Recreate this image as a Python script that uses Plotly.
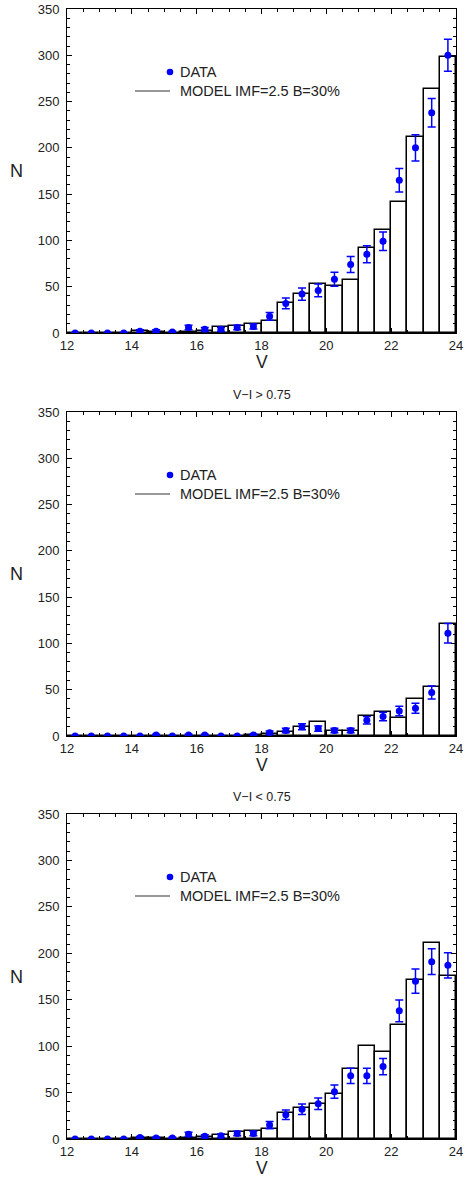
import plotly.graph_objects as go

# V-band magnitude bins (0.5 mag wide) shared by all three histograms
v_centers = [12.25, 12.75, 13.25, 13.75, 14.25, 14.75, 15.25, 15.75,
             16.25, 16.75, 17.25, 17.75, 18.25, 18.75, 19.25, 19.75,
             20.25, 20.75, 21.25, 21.75, 22.25, 22.75, 23.25, 23.75]

# All stars
model_all = [0, 0, 0, 0, 2, 1, 0.5, 1, 2, 6, 7.5, 10, 13, 32, 42, 52.5,
             51, 57, 92, 111, 142, 212, 264, 298]
data_all = [0, 0, 0, 0, 2, 2, 1, 6, 4, 4, 6, 7, 18, 32, 42, 46,
            58, 74, 85, 99, 165, 200, 238, 300]
err_all = [0, 0, 0, 0, 1.4, 1.4, 1, 2.4, 2, 2, 2.4, 2.6, 4.2, 5.7, 6.5, 6.8,
           7.6, 8.6, 9.2, 10, 12.8, 14.1, 15.4, 17.3]

# V-I > 0.75
model_red = [0, 0, 0, 0, 0, 0, 0, 0, 0, 0, 0.5, 1, 2, 4, 9.5, 15,
             5, 5, 22, 25.5, 19, 40, 52.5, 121]
data_red = [0, 0, 0, 0, 0, 1, 0, 1, 1, 0, 0, 1, 3.5, 6, 10, 8,
            6, 6, 17, 21, 27, 30, 47, 111]
err_red = [0, 0, 0, 0, 0, 1, 0, 1, 1, 0, 0, 1, 1.9, 2.4, 3.2, 2.8,
           2.4, 2.4, 4.1, 4.6, 5.2, 5.5, 6.9, 10.5]

# V-I < 0.75
model_blue = [0, 0, 0, 0, 1.5, 1, 0.5, 1, 2.5, 4.5, 7.5, 9, 11, 28, 33, 38,
              48, 75, 100, 94, 123, 171, 211, 176]
data_blue = [0, 0, 0, 0, 1.5, 1, 1, 5, 3, 3.5, 6, 6, 15, 26, 32, 38,
             51, 68, 68, 78, 138, 170, 191, 187]
err_blue = [0, 0, 0, 0, 1.2, 1, 1, 2.2, 1.7, 1.9, 2.4, 2.4, 3.9, 5.1, 5.7, 6.2,
            7.1, 8.2, 8.2, 8.8, 11.7, 13, 13.8, 13.7]

panels = [
    (model_all, data_all, err_all, ""),
    (model_red, data_red, err_red, "V\u2212I > 0.75"),
    (model_blue, data_blue, err_blue, "V\u2212I < 0.75"),
]

W, H = 465, 1177
FONT = "Liberation Sans, Arial, sans-serif"
BLUE = "#0000ff"
TXT = "#222222"

# pixel boxes of the three plot areas: (left, right, top, bottom)
boxes = [(67, 456, 9, 333), (67, 456, 412, 736), (67, 456, 814, 1139)]


def px(x):
    return x / W


def py(y):
    return 1 - y / H


def label(x, y, text, size, xanchor="center", pad=1):
    return dict(
        x=px(x), y=py(y), xref="paper", yref="paper",
        xanchor=xanchor, yanchor="middle", text=text, showarrow=False,
        borderpad=pad, font=dict(family=FONT, size=size, color=TXT),
    )


fig = go.Figure()
shapes = []
annotations = []

for i, ((model, data, err, title), box) in enumerate(zip(panels, boxes)):
    k = "" if i == 0 else str(i + 1)
    xa, ya = "x" + k, "y" + k
    left, right, top, bottom = box

    fig.add_trace(go.Bar(
        x=v_centers, y=model, width=0.5, xaxis=xa, yaxis=ya,
        marker=dict(color="white", line=dict(color="black", width=1.5)),
        showlegend=False, name="MODEL IMF=2.5 B=30%",
    ))
    fig.add_trace(go.Scatter(
        x=v_centers, y=data, xaxis=xa, yaxis=ya, mode="markers",
        marker=dict(color=BLUE, size=7),
        error_y=dict(type="data", array=err, visible=True, color=BLUE,
                     thickness=1.5, width=4),
        showlegend=False, name="DATA",
    ))

    axis_common = dict(
        showline=True, linecolor="black", linewidth=1, mirror="allticks",
        ticks="inside", ticklen=5, tickcolor="black", showgrid=False,
        zeroline=False, automargin=False,
        tickfont=dict(family=FONT, size=13, color=TXT),
    )
    fig.layout["xaxis" + k] = dict(
        axis_common, range=[12, 24], dtick=2, tick0=12,
        domain=[px(left), px(right)], anchor=ya,
        minor=dict(dtick=0.5, ticks="inside", ticklen=3, tickcolor="black"),
        ticklabelstandoff=0,
    )
    fig.layout["yaxis" + k] = dict(
        axis_common, range=[0, 350], dtick=50, tick0=0,
        domain=[py(bottom), py(top)], anchor=xa,
        minor=dict(dtick=10, ticks="inside", ticklen=3, tickcolor="black"),
        ticklabelstandoff=4,
    )

    # axis titles
    annotations.append(label(16, (top + bottom) / 2, "N", 18))
    annotations.append(label((left + right) / 2, bottom + 29, "V", 17.5, pad=0))
    if title:
        annotations.append(label((left + right) / 2, top - 17, title, 12.5))

    # legend block
    dot_x, dot_y = 170, top + 63
    line_y = top + 82
    shapes.append(dict(
        type="circle", xref="paper", yref="paper",
        x0=px(dot_x - 3.3), x1=px(dot_x + 3.3),
        y0=py(dot_y + 3.3), y1=py(dot_y - 3.3),
        fillcolor=BLUE, line=dict(width=0),
    ))
    shapes.append(dict(
        type="line", xref="paper", yref="paper",
        x0=px(135), x1=px(170), y0=py(line_y), y1=py(line_y),
        line=dict(color="#333333", width=1.2),
    ))
    annotations.append(label(178, dot_y, "DATA", 14.5, xanchor="left"))
    annotations.append(label(178, line_y, "MODEL IMF=2.5 B=30%", 14.5,
                             xanchor="left"))

fig.update_layout(
    width=W, height=H,
    margin=dict(l=0, r=0, t=0, b=0),
    paper_bgcolor="white", plot_bgcolor="white",
    barmode="overlay", bargap=0,
    shapes=shapes, annotations=annotations,
    showlegend=False,
)

fig.write_html("out.html")
